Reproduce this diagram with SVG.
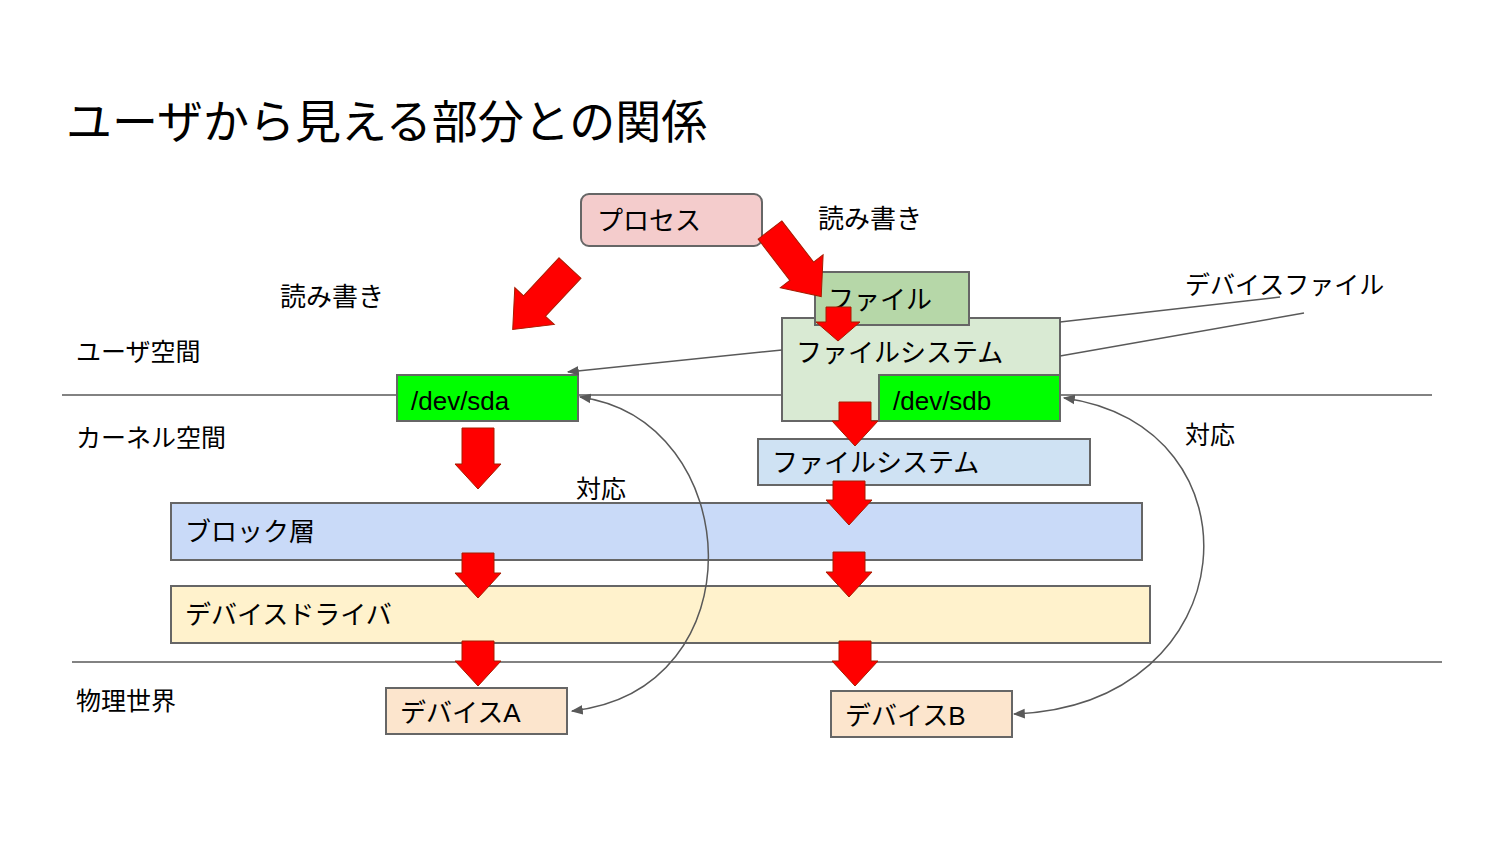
<svg xmlns="http://www.w3.org/2000/svg" width="1500" height="844" viewBox="0 0 1500 844">
<style>
text{font-family:"Liberation Sans","Noto Sans CJK JP",sans-serif;fill:#000}
.b{stroke:#666;stroke-width:2}
.ra{fill:#f00;stroke:#a61c00;stroke-width:1}
.ln{stroke:#595959;stroke-width:1.5;fill:none}
</style>
<defs>
<marker id="ah" viewBox="0 0 10 10" refX="9" refY="5" markerWidth="8" markerHeight="8" orient="auto-start-reverse"><path d="M0,1L10,5L0,9z" fill="#595959"/></marker>
</defs>
<rect width="1500" height="844" fill="#fff"/>
<text x="66" y="138" font-size="46">ユーザから見える部分との関係</text>
<g id="sep"><line x1="62" y1="395" x2="1432" y2="395" class="ln"/><line x1="72" y1="662" x2="1442" y2="662" class="ln"/></g>
<g id="labels" font-size="25">
<text x="280" y="306" font-size="26">読み書き</text>
<text x="818" y="228" font-size="26">読み書き</text>
<text x="76" y="361">ユーザ空間</text>
<text x="76" y="447">カーネル空間</text>
<text x="76" y="710">物理世界</text>
<text x="1185" y="294">デバイスファイル</text>
<text x="1185" y="444">対応</text>
<text x="576" y="498">対応</text>
</g>
<g id="process"><rect x="581" y="194" width="181" height="52" rx="8" fill="#f4cccc" class="b"/><text x="597" y="230" font-size="26">プロセス</text></g>
<g id="fs-user"><rect x="782" y="318" width="278" height="103" fill="#d9ead3" class="b"/><text x="796" y="362" font-size="26">ファイルシステム</text></g>
<g id="file"><rect x="815" y="272" width="154" height="53" fill="#b6d7a8" class="b"/><text x="828" y="309" font-size="26">ファイル</text></g>
<g id="sdb"><rect x="879" y="375" width="181" height="46" fill="#00ff00" class="b"/><text x="893" y="410" font-size="26">/dev/sdb</text></g>
<g id="sda"><rect x="397" y="375" width="181" height="46" fill="#00ff00" class="b"/><text x="411" y="410" font-size="26">/dev/sda</text></g>
<g id="fs-kernel"><rect x="758" y="439" width="332" height="46" fill="#cfe2f3" class="b"/><text x="772" y="472" font-size="26">ファイルシステム</text></g>
<g id="block"><rect x="171" y="503" width="971" height="57" fill="#c9daf8" class="b"/><text x="185" y="541" font-size="26">ブロック層</text></g>
<g id="driver"><rect x="171" y="586" width="979" height="57" fill="#fff2cc" class="b"/><text x="185" y="624" font-size="26">デバイスドライバ</text></g>
<g id="devA"><rect x="386" y="688" width="181" height="46" fill="#fce5cd" class="b"/><text x="400" y="722" font-size="26">デバイスA</text></g>
<g id="devB"><rect x="831" y="691" width="181" height="46" fill="#fce5cd" class="b"/><text x="845" y="725" font-size="26">デバイスB</text></g>
<g id="connectors">
<line x1="1280" y1="297" x2="1060" y2="322" class="ln"/>
<line x1="1304" y1="313" x2="1060" y2="356" class="ln"/>
<line x1="782" y1="350" x2="568" y2="372" class="ln" marker-end="url(#ah)"/>
<path d="M580,397 C745,420 760,690 572,711" class="ln" marker-start="url(#ah)" marker-end="url(#ah)"/>
<path d="M1064,398 C1265,425 1250,705 1014,714" class="ln" marker-start="url(#ah)" marker-end="url(#ah)"/>
</g>
<g id="red-arrows">
<polygon class="ra" points="462,428 494,428 494,464 501,464 478,489 455,464 462,464"/>
<polygon class="ra" points="462,553 494,553 494,573 501,573 478,598 455,573 462,573"/>
<polygon class="ra" points="462,641 494,641 494,661 501,661 478,686 455,661 462,661"/>
<polygon class="ra" points="839,402 871,402 871,421 878,421 855,446 832,421 839,421"/>
<polygon class="ra" points="833,481 865,481 865,500 872,500 849,525 826,500 833,500"/>
<polygon class="ra" points="833,552 865,552 865,572 872,572 849,597 826,572 833,572"/>
<polygon class="ra" points="839,641 871,641 871,661 878,661 855,686 832,661 839,661"/>
<polygon class="ra" points="826,307 851,307 851,322 860,322 838,341 816,322 826,322"/>
<polygon class="ra" points="-15,0 15,0 15,52 27,52 0,84 -27,52 -15,52" transform="translate(570,268) rotate(43)"/>
<polygon class="ra" points="-15,0 15,0 15,52 27,52 0,84 -27,52 -15,52" transform="translate(770,230) rotate(-37.6)"/>
</g>
</svg>
